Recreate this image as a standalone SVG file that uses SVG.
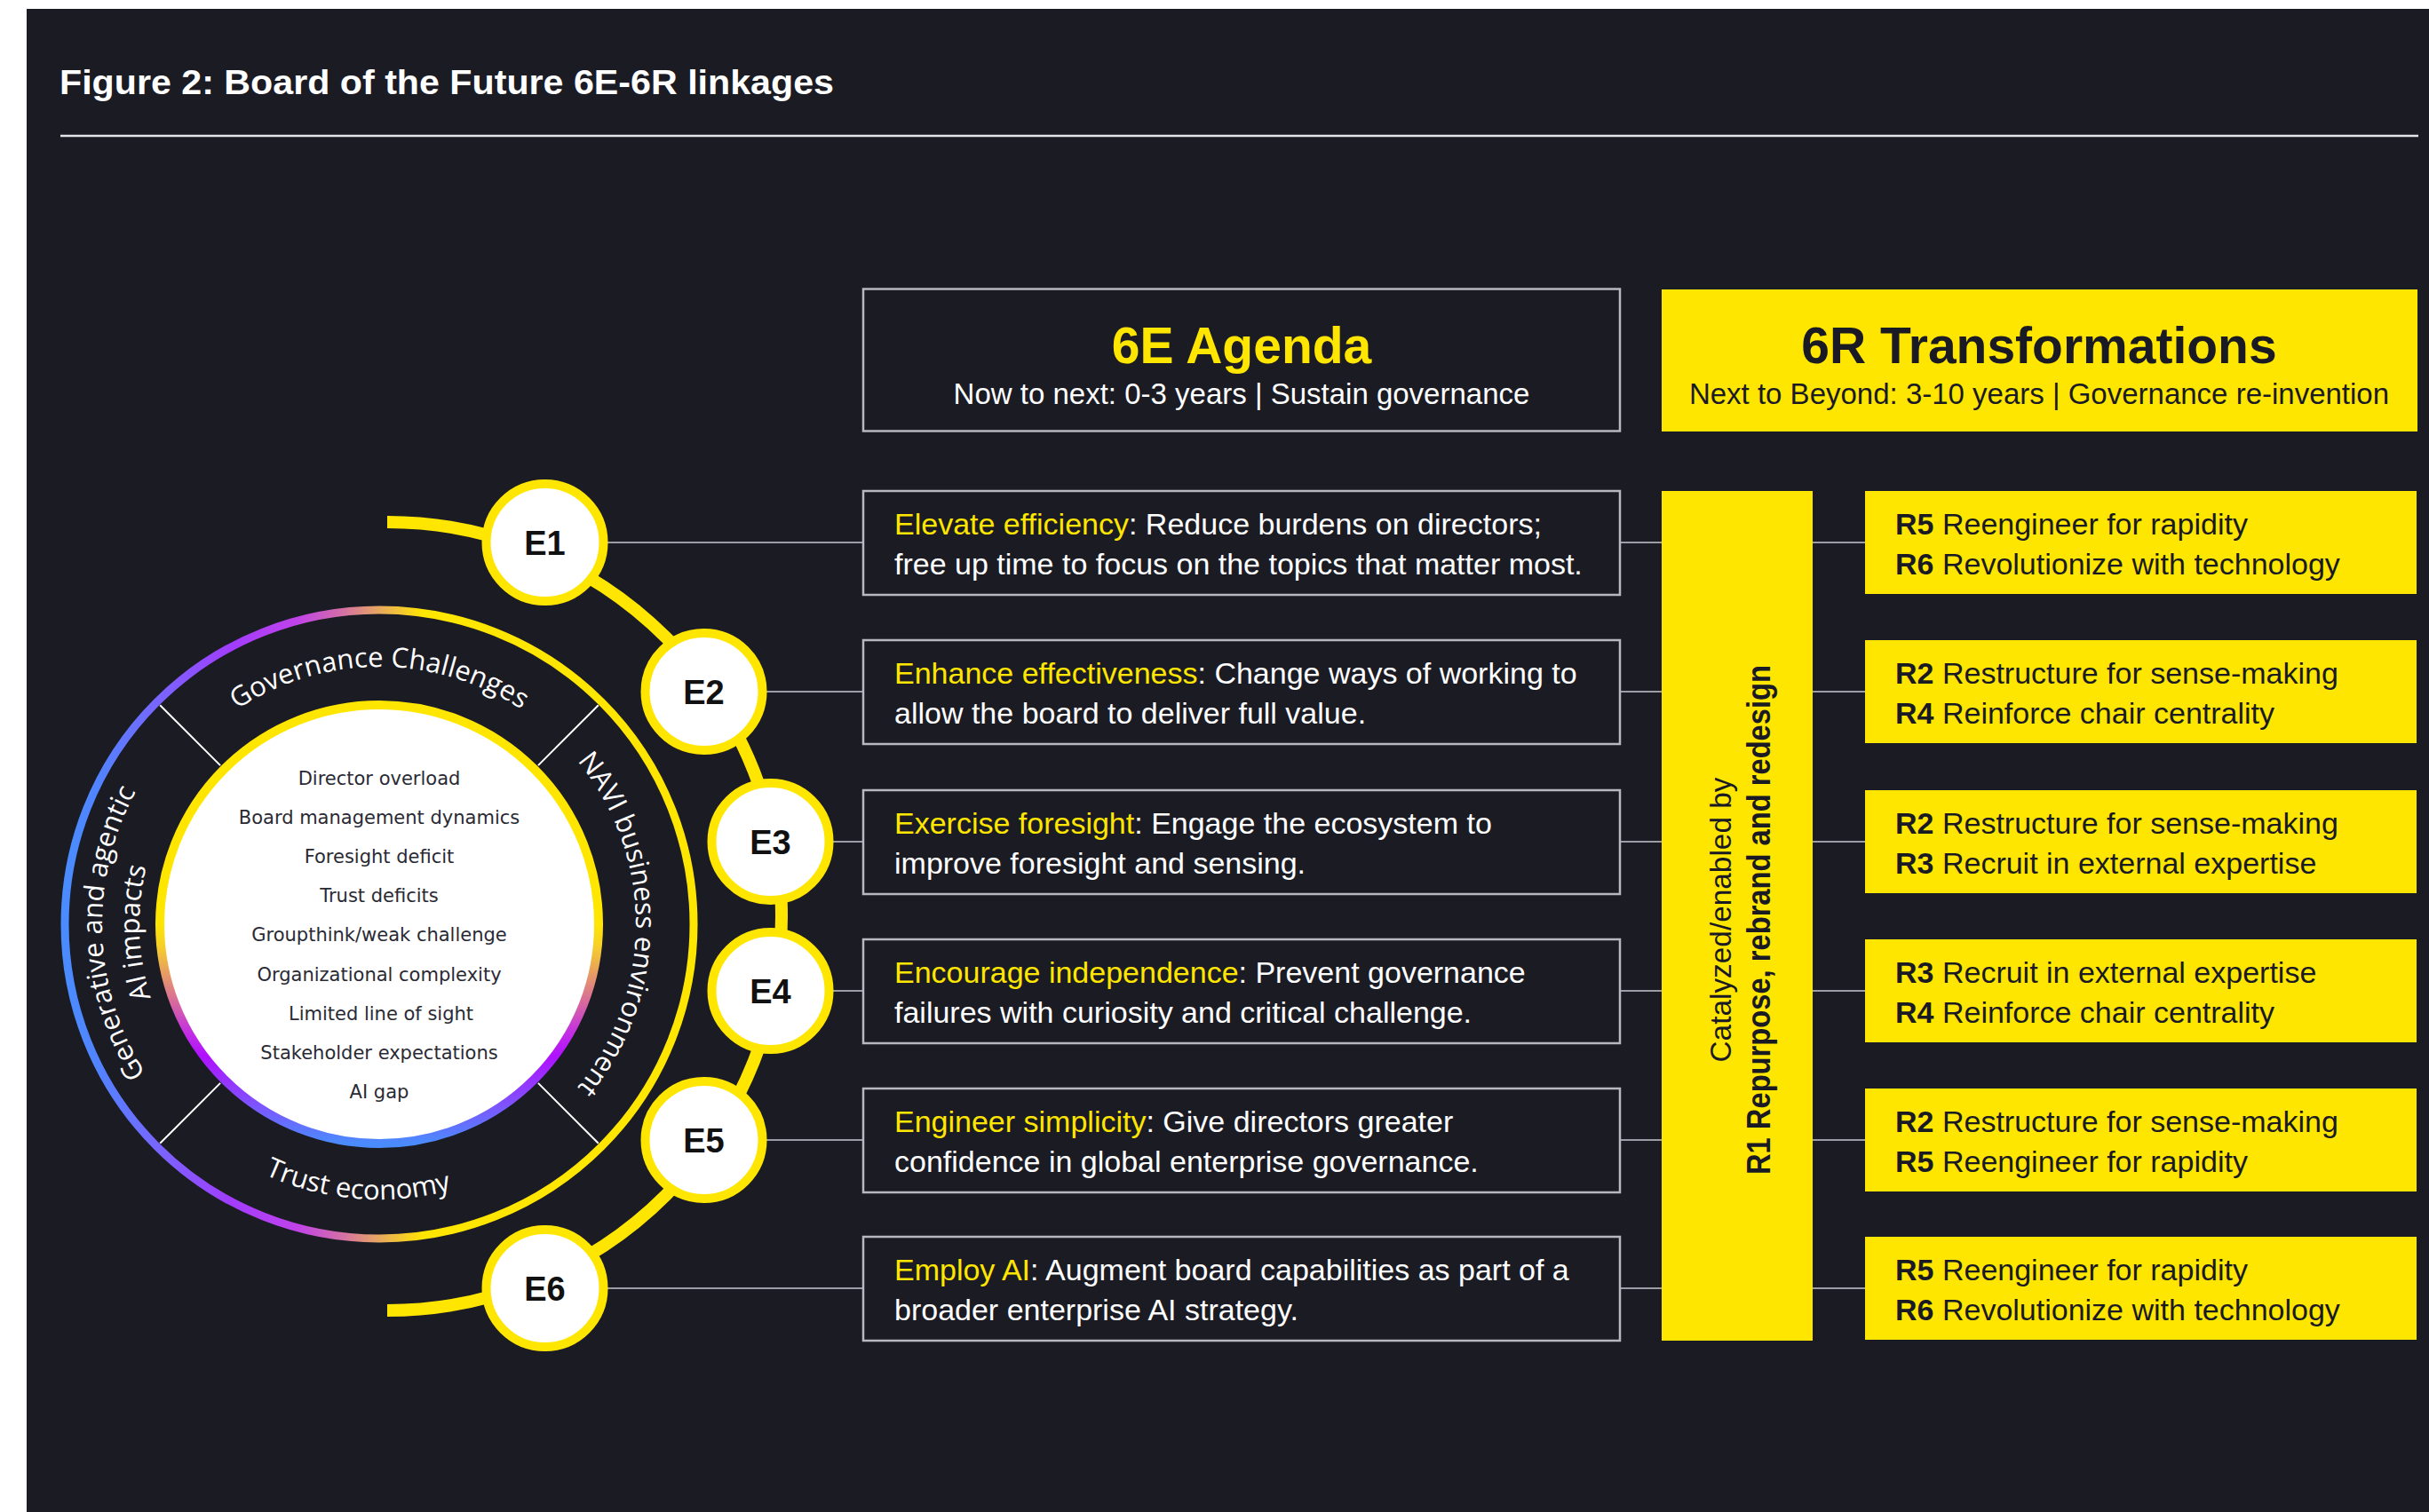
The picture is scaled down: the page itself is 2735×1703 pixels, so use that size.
<svg xmlns="http://www.w3.org/2000/svg" width="2735" height="1703" viewBox="0 0 2735 1703">
  <defs>
    <style>
      .bg { fill: #1b1b24; }
      .title { font-family: "Liberation Sans", Arial, sans-serif; font-weight: bold; font-size: 39px; fill: #ffffff; }
      .rule { stroke: #e4e4e8; stroke-width: 2.5; }
      .conn { stroke: #9c9ca6; stroke-width: 2; fill: none; }
      .spine { stroke: #ffe600; stroke-width: 14; fill: none; }
      .ebox { fill: #1b1b24; stroke: #b8b8c0; stroke-width: 2.5; }
      .ybox { fill: #ffe600; }
      .etxt { font-family: "Liberation Sans", Arial, sans-serif; font-size: 34px; fill: #ffffff; }
      .hl { fill: #ffe600; }
      .rtxt { font-family: "Liberation Sans", Arial, sans-serif; font-size: 34px; fill: #1a1a24; }
      .b { font-weight: bold; }
      .h-title { font-family: "Liberation Sans", Arial, sans-serif; font-weight: bold; font-size: 57px; text-anchor: middle; }
      .h-sub { font-family: "Liberation Sans", Arial, sans-serif; font-size: 33px; text-anchor: middle; }
      .ecirc { fill: #ffffff; stroke: #ffe600; stroke-width: 10; }
      .elabel { font-family: "Liberation Sans", Arial, sans-serif; font-weight: bold; font-size: 38px; fill: #111111; text-anchor: middle; }
      .arc-txt { font-family: "Open Sans", "DejaVu Sans", sans-serif; font-size: 31px; fill: #ffffff; }
      .list { font-family: "DejaVu Sans", sans-serif; font-size: 21px; fill: #2a2a34; text-anchor: middle; }
      .divider { stroke: #ffffff; stroke-width: 2; }
      .bar-thin { font-family: "Liberation Sans", Arial, sans-serif; font-size: 34px; fill: #1a1a24; text-anchor: middle; }
      .bar-bold { font-family: "Liberation Sans", Arial, sans-serif; font-weight: bold; font-size: 37px; fill: #1a1a24; text-anchor: middle; }
    </style>

    <!-- outer ring: blue on the left, yellow on the right -->
    <linearGradient id="outerGrad" x1="0" y1="0" x2="1" y2="0">
      <stop offset="0" stop-color="#4a8cff"/>
      <stop offset="0.05" stop-color="#5084ff"/>
      <stop offset="0.146" stop-color="#7766ff"/>
      <stop offset="0.265" stop-color="#a23cff"/>
      <stop offset="0.37" stop-color="#c043e8"/>
      <stop offset="0.44" stop-color="#d46ea8"/>
      <stop offset="0.5" stop-color="#e8a860"/>
      <stop offset="0.57" stop-color="#ffe600"/>
      <stop offset="1" stop-color="#ffe600"/>
    </linearGradient>

    <!-- inner ring: yellow on top, blue at the bottom -->
    <linearGradient id="innerGrad" x1="0" y1="0" x2="0" y2="1">
      <stop offset="0" stop-color="#ffe600"/>
      <stop offset="0.5" stop-color="#ffe600"/>
      <stop offset="0.55" stop-color="#f6cf2a"/>
      <stop offset="0.62" stop-color="#e6966a"/>
      <stop offset="0.69" stop-color="#d460a8"/>
      <stop offset="0.75" stop-color="#c22de6"/>
      <stop offset="0.80" stop-color="#b012ff"/>
      <stop offset="0.91" stop-color="#7f52ff"/>
      <stop offset="1" stop-color="#4a8cff"/>
    </linearGradient>

    <!-- baselines for the curved band labels (centre 427,1041) -->
    <path id="p-gov" d="M154.5,941.8 A290,290 0 0 1 699.5,941.8"/>
    <path id="p-navi" d="M571.5,790.7 A289,289 0 0 1 571.5,1291.3"/>
    <path id="p-trust" d="M146.7,1173.5 A310,310 0 0 0 681.9,1217.5"/>
    <path id="p-gen1" d="M280.5,1316.5 A312,312 0 0 1 261.7,776.4"/>
    <path id="p-gen2" d="M300.2,1279.4 A270,270 0 0 1 283.9,812.0"/>
  </defs>

  <!-- page -->
  <rect x="0" y="0" width="2735" height="1703" fill="#ffffff"/>
  <rect class="bg" x="30" y="10" width="2705" height="1693"/>

  <!-- heading -->
  <text class="title" x="67" y="106" textLength="872" lengthAdjust="spacingAndGlyphs">Figure 2: Board of the Future 6E-6R linkages</text>
  <line class="rule" x1="68" y1="153" x2="2723" y2="153"/>

  <!-- challenge wheel -->
  <g id="challenge-wheel">
    <circle cx="427" cy="1041" r="354" fill="none" stroke="url(#outerGrad)" stroke-width="9"/>
    <circle cx="427" cy="1041" r="247" fill="#ffffff" stroke="url(#innerGrad)" stroke-width="10"/>

    <line class="divider" x1="248.1" y1="862.1" x2="180.2" y2="794.2"/>
    <line class="divider" x1="605.9" y1="862.1" x2="673.8" y2="794.2"/>
    <line class="divider" x1="605.9" y1="1219.9" x2="673.8" y2="1287.8"/>
    <line class="divider" x1="248.1" y1="1219.9" x2="180.2" y2="1287.8"/>

    <text class="arc-txt"><textPath href="#p-gov" startOffset="50%" text-anchor="middle">Governance Challenges</textPath></text>
    <text class="arc-txt"><textPath href="#p-navi" startOffset="50%" text-anchor="middle">NAVI business environment</textPath></text>
    <text class="arc-txt"><textPath href="#p-trust" startOffset="50%" text-anchor="middle">Trust economy</textPath></text>
    <text class="arc-txt"><textPath href="#p-gen1" startOffset="50%" text-anchor="middle">Generative and agentic</textPath></text>
    <text class="arc-txt"><textPath href="#p-gen2" startOffset="50%" text-anchor="middle">AI impacts</textPath></text>

    <text class="list" x="427" y="884">Director overload</text>
    <text class="list" x="427" y="928">Board management dynamics</text>
    <text class="list" x="427" y="972">Foresight deficit</text>
    <text class="list" x="427" y="1016">Trust deficits</text>
    <text class="list" x="427" y="1060">Groupthink/weak challenge</text>
    <text class="list" x="427" y="1105">Organizational complexity</text>
    <text class="list" x="429" y="1149">Limited line of sight</text>
    <text class="list" x="427" y="1193">Stakeholder expectations</text>
    <text class="list" x="427" y="1237">AI gap</text>
  </g>

  <!-- connectors: spine through the E nodes and row links -->
  <g id="connectors">
    <path class="spine" d="M436,588 A444,444 0 0 1 436,1476"/>
    <line class="conn" x1="613.5" y1="611" x2="2100" y2="611"/>
    <line class="conn" x1="792.5" y1="779" x2="2100" y2="779"/>
    <line class="conn" x1="867.5" y1="948" x2="2100" y2="948"/>
    <line class="conn" x1="867.5" y1="1116" x2="2100" y2="1116"/>
    <line class="conn" x1="792.5" y1="1284" x2="2100" y2="1284"/>
    <line class="conn" x1="613.5" y1="1451" x2="2100" y2="1451"/>
  </g>

  <!-- E nodes -->
  <g id="node-e1"><circle class="ecirc" cx="613.5" cy="611" r="66"/><text class="elabel" x="613.5" y="625">E1</text></g>
  <g id="node-e2"><circle class="ecirc" cx="792.5" cy="779" r="66"/><text class="elabel" x="792.5" y="793">E2</text></g>
  <g id="node-e3"><circle class="ecirc" cx="867.5" cy="948" r="66"/><text class="elabel" x="867.5" y="962">E3</text></g>
  <g id="node-e4"><circle class="ecirc" cx="867.5" cy="1116" r="66"/><text class="elabel" x="867.5" y="1130">E4</text></g>
  <g id="node-e5"><circle class="ecirc" cx="792.5" cy="1284" r="66"/><text class="elabel" x="792.5" y="1298">E5</text></g>
  <g id="node-e6"><circle class="ecirc" cx="613.5" cy="1451" r="66"/><text class="elabel" x="613.5" y="1465">E6</text></g>

  <!-- column headers -->
  <g id="header-6e">
    <rect class="ebox" x="972" y="325.5" width="852" height="160"/>
    <text class="h-title hl" x="1398" y="409">6E Agenda</text>
    <text class="h-sub" x="1398" y="455" fill="#ffffff">Now to next: 0-3 years | Sustain governance</text>
  </g>
  <g id="header-6r">
    <rect class="ybox" x="1871" y="326" width="851" height="160"/>
    <text class="h-title" x="2296" y="409" fill="#1a1a24">6R Transformations</text>
    <text class="h-sub" x="2296" y="455" fill="#1a1a24">Next to Beyond: 3-10 years | Governance re-invention</text>
  </g>

  <!-- 6E agenda items -->
  <g id="agenda-e1">
    <rect class="ebox" x="972" y="553" width="852" height="117"/>
    <text class="etxt" x="1007" y="602"><tspan class="hl">Elevate efficiency</tspan>: Reduce burdens on directors;</text>
    <text class="etxt" x="1007" y="647">free up time to focus on the topics that matter most.</text>
  </g>
  <g id="agenda-e2">
    <rect class="ebox" x="972" y="721" width="852" height="117"/>
    <text class="etxt" x="1007" y="770"><tspan class="hl">Enhance effectiveness</tspan>: Change ways of working to</text>
    <text class="etxt" x="1007" y="815">allow the board to deliver full value.</text>
  </g>
  <g id="agenda-e3">
    <rect class="ebox" x="972" y="890" width="852" height="117"/>
    <text class="etxt" x="1007" y="939"><tspan class="hl">Exercise foresight</tspan>: Engage the ecosystem to</text>
    <text class="etxt" x="1007" y="984">improve foresight and sensing.</text>
  </g>
  <g id="agenda-e4">
    <rect class="ebox" x="972" y="1058" width="852" height="117"/>
    <text class="etxt" x="1007" y="1107"><tspan class="hl">Encourage independence</tspan>: Prevent governance</text>
    <text class="etxt" x="1007" y="1152">failures with curiosity and critical challenge.</text>
  </g>
  <g id="agenda-e5">
    <rect class="ebox" x="972" y="1226" width="852" height="117"/>
    <text class="etxt" x="1007" y="1275"><tspan class="hl">Engineer simplicity</tspan>: Give directors greater</text>
    <text class="etxt" x="1007" y="1320">confidence in global enterprise governance.</text>
  </g>
  <g id="agenda-e6">
    <rect class="ebox" x="972" y="1393" width="852" height="117"/>
    <text class="etxt" x="1007" y="1442"><tspan class="hl">Employ AI</tspan>: Augment board capabilities as part of a</text>
    <text class="etxt" x="1007" y="1487">broader enterprise AI strategy.</text>
  </g>

  <!-- R1 enabler bar -->
  <g id="enabler-r1">
    <rect class="ybox" x="1871" y="553" width="170" height="957"/>
    <text class="bar-thin" transform="translate(1949,1036) rotate(-90)" textLength="321" lengthAdjust="spacingAndGlyphs">Catalyzed/enabled by</text>
    <text class="bar-bold" transform="translate(1993,1036) rotate(-90)" textLength="574" lengthAdjust="spacingAndGlyphs">R1 Repurpose, rebrand and redesign</text>
  </g>

  <!-- 6R transformation pairs -->
  <g id="transform-row1">
    <rect class="ybox" x="2100" y="553" width="621" height="116"/>
    <text class="rtxt" x="2134" y="602"><tspan class="b">R5</tspan> Reengineer for rapidity</text>
    <text class="rtxt" x="2134" y="647"><tspan class="b">R6</tspan> Revolutionize with technology</text>
  </g>
  <g id="transform-row2">
    <rect class="ybox" x="2100" y="721" width="621" height="116"/>
    <text class="rtxt" x="2134" y="770"><tspan class="b">R2</tspan> Restructure for sense-making</text>
    <text class="rtxt" x="2134" y="815"><tspan class="b">R4</tspan> Reinforce chair centrality</text>
  </g>
  <g id="transform-row3">
    <rect class="ybox" x="2100" y="890" width="621" height="116"/>
    <text class="rtxt" x="2134" y="939"><tspan class="b">R2</tspan> Restructure for sense-making</text>
    <text class="rtxt" x="2134" y="984"><tspan class="b">R3</tspan> Recruit in external expertise</text>
  </g>
  <g id="transform-row4">
    <rect class="ybox" x="2100" y="1058" width="621" height="116"/>
    <text class="rtxt" x="2134" y="1107"><tspan class="b">R3</tspan> Recruit in external expertise</text>
    <text class="rtxt" x="2134" y="1152"><tspan class="b">R4</tspan> Reinforce chair centrality</text>
  </g>
  <g id="transform-row5">
    <rect class="ybox" x="2100" y="1226" width="621" height="116"/>
    <text class="rtxt" x="2134" y="1275"><tspan class="b">R2</tspan> Restructure for sense-making</text>
    <text class="rtxt" x="2134" y="1320"><tspan class="b">R5</tspan> Reengineer for rapidity</text>
  </g>
  <g id="transform-row6">
    <rect class="ybox" x="2100" y="1393" width="621" height="116"/>
    <text class="rtxt" x="2134" y="1442"><tspan class="b">R5</tspan> Reengineer for rapidity</text>
    <text class="rtxt" x="2134" y="1487"><tspan class="b">R6</tspan> Revolutionize with technology</text>
  </g>
</svg>
